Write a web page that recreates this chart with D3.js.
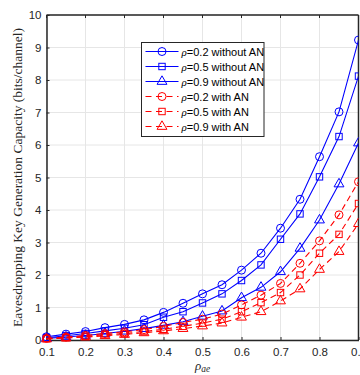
<!DOCTYPE html>
<html>
<head>
<meta charset="utf-8">
<script src="https://cdn.jsdelivr.net/npm/d3@7"></script>
<style>
  body { margin: 0; background: #fff; }
  svg { display: block; }
</style>
</head>
<body>
<script>
// rho_ae values on the x axis
var xs = [0.1, 0.15, 0.2, 0.25, 0.3, 0.35, 0.4, 0.45, 0.5, 0.55, 0.6, 0.65, 0.7, 0.75, 0.8, 0.85, 0.9];

// capacity, bits/channel
var noAN_02 = [0.10, 0.18, 0.26, 0.38, 0.48, 0.62, 0.85, 1.13, 1.42, 1.70, 2.15, 2.67, 3.44, 4.33, 5.64, 7.02, 9.23];
var noAN_05 = [0.07, 0.13, 0.20, 0.28, 0.36, 0.47, 0.70, 0.87, 1.14, 1.42, 1.83, 2.31, 3.10, 3.88, 5.02, 6.26, 8.12];
var noAN_09 = [0.05, 0.09, 0.14, 0.20, 0.27, 0.35, 0.45, 0.56, 0.73, 0.89, 1.30, 1.62, 2.10, 2.82, 3.69, 4.80, 6.06];
var AN_02   = [0.05, 0.09, 0.14, 0.20, 0.25, 0.32, 0.42, 0.54, 0.64, 0.80, 1.08, 1.38, 1.74, 2.36, 3.05, 3.85, 4.87];
var AN_05   = [0.04, 0.07, 0.11, 0.16, 0.20, 0.26, 0.33, 0.42, 0.52, 0.64, 0.87, 1.15, 1.46, 2.00, 2.67, 3.25, 4.20];
var AN_09   = [0.03, 0.06, 0.09, 0.13, 0.17, 0.22, 0.28, 0.35, 0.43, 0.52, 0.70, 0.87, 1.20, 1.57, 2.17, 2.72, 3.58];

var xTicks = [0.1, 0.2, 0.3, 0.4, 0.5, 0.6, 0.7, 0.8, 0.9];
var yTicks = [0, 1, 2, 3, 4, 5, 6, 7, 8, 9, 10];

var seriesNames = ["\u03c1=0.2 without AN", "\u03c1=0.5 without AN", "\u03c1=0.9 without AN",
                   "\u03c1=0.2 with AN", "\u03c1=0.5 with AN", "\u03c1=0.9 with AN"];
var seriesVals = [noAN_02, noAN_05, noAN_09, AN_02, AN_05, AN_09];
var seriesMark = ["circle", "square", "triangle", "circle", "square", "triangle"];
var seriesColor = ["#0000ff", "#0000ff", "#0000ff", "#ff0000", "#ff0000", "#ff0000"];
var seriesDash = [null, null, null, "6,4", "6,4", "6,4"];

var W = 360, H = 375;
var margin = { top: 15, right: 1.5, bottom: 35, left: 46.5 };

var svg = d3.select("body").append("svg")
    .attr("width", W)
    .attr("height", H);

var x = d3.scaleLinear().domain([0.1, 0.9]).range([margin.left, W - margin.right]);
var y = d3.scaleLinear().domain([0, 10]).range([H - margin.bottom, margin.top]);

var axisCol = "#262626";
var font = "'Liberation Sans', Arial, sans-serif";

// grid
var grid = svg.append("g");
grid.selectAll("line.gx").data(xTicks).enter().append("line")
    .attr("x1", function (d) { return x(d); }).attr("x2", function (d) { return x(d); })
    .attr("y1", y(0)).attr("y2", y(10))
    .attr("stroke", "#e6e6e6").attr("stroke-width", 1);
grid.selectAll("line.gy").data(yTicks).enter().append("line")
    .attr("y1", function (d) { return y(d); }).attr("y2", function (d) { return y(d); })
    .attr("x1", x(0.1)).attr("x2", x(0.9))
    .attr("stroke", "#e6e6e6").attr("stroke-width", 1);

// axes (ticks pointing inward like matlab)
var xAxis = svg.append("g")
    .attr("transform", "translate(0," + y(0) + ")")
    .call(d3.axisBottom(x).tickValues(xTicks).tickSizeInner(-3).tickSizeOuter(0).tickPadding(8)
        .tickFormat(d3.format(".1f")));
var yAxis = svg.append("g")
    .attr("transform", "translate(" + x(0.1) + ",0)")
    .call(d3.axisLeft(y).tickValues(yTicks).tickSizeInner(-3).tickSizeOuter(0).tickPadding(5));

[xAxis, yAxis].forEach(function (a) {
    a.select(".domain").attr("stroke", axisCol).attr("stroke-width", 1.5);
    a.selectAll(".tick line").attr("stroke", axisCol);
    a.selectAll("text").attr("fill", axisCol).style("font-family", font).style("font-size", "11.5px");
});

// top and right box edges
svg.append("line").attr("x1", x(0.1)).attr("x2", x(0.9)).attr("y1", y(10)).attr("y2", y(10))
    .attr("stroke", axisCol).attr("stroke-width", 1.5);
svg.append("line").attr("x1", x(0.9)).attr("x2", x(0.9)).attr("y1", y(10)).attr("y2", y(0))
    .attr("stroke", axisCol).attr("stroke-width", 1.5);
svg.append("g").selectAll("line").data(xTicks).enter().append("line")
    .attr("x1", function (d) { return x(d); }).attr("x2", function (d) { return x(d); })
    .attr("y1", y(10)).attr("y2", y(10) + 3).attr("stroke", axisCol);

var clip = svg.append("clipPath").attr("id", "clip").append("rect")
    .attr("x", x(0.1) - 10).attr("y", y(10)).attr("width", x(0.9) - x(0.1) + 10).attr("height", y(0) - y(10) + 10);

function drawMarker(g, kind, color) {
    if (kind === "circle") {
        g.append("circle").attr("r", 4);
    } else if (kind === "square") {
        g.append("rect").attr("x", -3.2).attr("y", -3.2).attr("width", 6.4).attr("height", 6.4);
    } else {
        g.append("path").attr("d", d3.symbol().type(d3.symbolTriangle).size(42)());
    }
    g.selectAll("*").attr("fill", "none").attr("stroke", color).attr("stroke-width", 1);
}

var line = d3.line()
    .x(function (d, i) { return x(xs[i]); })
    .y(function (d) { return y(d); });

var plot = svg.append("g").attr("clip-path", "url(#clip)");

seriesVals.forEach(function (vals, k) {
    var g = plot.append("g");
    g.append("path")
        .attr("d", line(vals))
        .attr("fill", "none")
        .attr("stroke", seriesColor[k])
        .attr("stroke-width", 1.1)
        .attr("stroke-dasharray", seriesDash[k]);
    vals.forEach(function (v, i) {
        var m = g.append("g").attr("transform", "translate(" + x(xs[i]) + "," + y(v) + ")");
        drawMarker(m, seriesMark[k], seriesColor[k]);
    });
});

// legend
var lg = svg.append("g").attr("transform", "translate(141.5,42.5)");
lg.append("rect").attr("width", 122.5).attr("height", 94)
    .attr("fill", "#fff").attr("stroke", axisCol).attr("stroke-width", 1);
seriesNames.forEach(function (name, k) {
    var ry = 9 + k * 15;
    lg.append("line").attr("x1", 4).attr("x2", 37).attr("y1", ry).attr("y2", ry)
        .attr("stroke", seriesColor[k]).attr("stroke-width", 1.1)
        .attr("stroke-dasharray", seriesDash[k] ? "6,4.5" : null);
    var m = lg.append("g").attr("transform", "translate(20.5," + ry + ")");
    drawMarker(m, seriesMark[k], seriesColor[k]);
    var t = lg.append("text").attr("x", 40).attr("y", ry + 4)
        .style("font-family", font).style("font-size", "11px").attr("fill", "#000");
    t.append("tspan").style("font-family", "'Liberation Serif', serif").style("font-style", "italic")
        .text(name.slice(0, 1));
    t.append("tspan").text(name.slice(1));
});

// axis labels
svg.append("text")
    .attr("transform", "translate(22," + (y(5)) + ") rotate(-90)")
    .attr("text-anchor", "middle")
    .style("font-family", "'Liberation Serif', 'Times New Roman', serif")
    .style("font-size", "13.5px")
    .attr("fill", axisCol)
    .text("Eavesdropping Key Generation Capacity (bits/channel)");

var xl = svg.append("text")
    .attr("x", x(0.5)).attr("y", 370)
    .attr("text-anchor", "middle")
    .style("font-family", "'Liberation Serif', serif")
    .style("font-size", "13px")
    .style("font-style", "italic")
    .attr("fill", axisCol);
xl.append("tspan").text("\u03c1");
xl.append("tspan").attr("dy", 2).style("font-size", "9.5px").text("ae");
</script>
</body>
</html>
